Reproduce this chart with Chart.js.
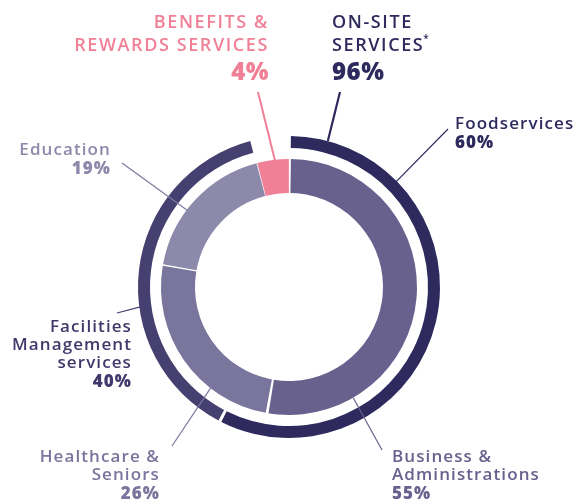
<!DOCTYPE html>
<html>
<head>
<meta charset="utf-8">
<script src="https://cdn.jsdelivr.net/npm/chart.js@4/dist/chart.umd.min.js"></script>
<style>
html,body{margin:0;padding:0;background:#fff;}
#wrap{position:relative;width:576px;height:500px;}
</style>
</head>
<body>
<div id="wrap"><canvas id="c" width="576" height="500"></canvas></div>
<script>
// ---- data ----
const onSiteLabel = 'ON-SITE SERVICES*';
const onSitePct = 96;
const benefitsLabel = 'BENEFITS & REWARDS SERVICES';
const benefitsPct = 4;
const sectorLabels = ['Business & Administrations', 'Healthcare & Seniors', 'Education'];
const sectorPct = [55, 26, 19];
const serviceLabels = ['Foodservices', 'Facilities Management services'];
const servicePct = [60, 40];

// ---- colours ----
const navyDark = '#2e2a5e';
const navyLight = '#45406f';
const sectorColors = ['#68618e', '#79759c', '#8c89ab'];
const pink = '#f08096';

// values (share of the whole)
const outerValues = servicePct.map(p => p * onSitePct / 100).concat([benefitsPct]);
const innerValues = sectorPct.map(p => p * onSitePct / 100).concat([benefitsPct]);

const FONT = '"Open Sans", sans-serif';

function ptAt(cx, cy, r, deg) {
  const a = deg * Math.PI / 180;
  return [cx + r * Math.sin(a), cy - r * Math.cos(a)];
}

const labelPlugin = {
  id: 'labels',
  afterDraw(chart) {
    const ctx = chart.ctx;
    const outer = chart.getDatasetMeta(0).data;
    const inner = chart.getDatasetMeta(2).data;
    const cx = outer[0].x, cy = outer[0].y;
    const rOut = outer[0].outerRadius;
    const rIn = inner[0].outerRadius;

    function midDeg(arc) {
      return ((arc.startAngle + arc.endAngle) / 2) * 180 / Math.PI + 90;
    }

    function line(x1, y1, deg, r, color, w) {
      const [x2, y2] = ptAt(cx, cy, r, deg);
      ctx.save();
      ctx.strokeStyle = color;
      ctx.lineWidth = w;
      ctx.beginPath();
      ctx.moveTo(x1, y1);
      ctx.lineTo(x2, y2);
      ctx.stroke();
      ctx.restore();
    }

    function text(lines, x, align, color) {
      ctx.save();
      ctx.fillStyle = color;
      ctx.textAlign = align;
      ctx.textBaseline = 'alphabetic';
      lines.forEach(l => {
        ctx.font = l.font;
        ctx.letterSpacing = l.ls || '1.1px';
        ctx.fillText(l.t, x, l.y);
      });
      ctx.restore();
    }

    const reg = '600 17px ' + FONT;
    const bold = '800 17px ' + FONT;
    const head = '600 18px ' + FONT;
    const headBold = '800 24px ' + FONT;

    // leader lines
    line(258, 92, midDeg(inner[3]) + 1, rIn - 2, pink, 2);
    line(340, 92, 14.9, rOut + 1, navyDark, 2.2);
    line(448, 129, 45.5, rOut, navyDark, 1.2);
    line(122, 163, 307, rIn, '#7d7aa0', 1.2);
    line(117, 313, 262.4, rOut, navyLight, 1.2);
    line(172, 446, 217.8, rIn + 1, '#79759c', 1.2);
    line(382, 450, 149.9, rIn + 1, '#68618e', 1.2);

    // headers
    text([
      {t: 'BENEFITS &', y: 28, font: head, ls: '1.6px'},
      {t: 'REWARDS SERVICES', y: 51, font: head, ls: '1.6px'},
      {t: benefitsPct + '%', y: 80, font: headBold, ls: '0.5px'}
    ], 269, 'right', pink);
    text([
      {t: 'ON-SITE', y: 28, font: head, ls: '1.6px'},
      {t: 'SERVICES', y: 51, font: head, ls: '1.6px'},
      {t: onSitePct + '%', y: 80, font: headBold, ls: '0.5px'}
    ], 332, 'left', navyDark);
    ctx.save();
    ctx.font = head; ctx.letterSpacing = '1.6px';
    const wS = ctx.measureText('SERVICES').width;
    ctx.font = '600 10px ' + FONT;
    ctx.letterSpacing = '0px';
    ctx.fillStyle = navyDark;
    ctx.fillText('*', 332 + wS - 1, 42);
    ctx.restore();

    // sector / service labels
    text([
      {t: serviceLabels[0], y: 129, font: reg},
      {t: servicePct[0] + '%', y: 148, font: bold}
    ], 455, 'left', navyDark);
    text([
      {t: sectorLabels[2], y: 155, font: reg},
      {t: sectorPct[2] + '%', y: 174, font: bold}
    ], 111, 'right', '#8c89ab');
    text([
      {t: 'Facilities', y: 332, font: reg},
      {t: 'Management', y: 350, font: reg},
      {t: 'services', y: 368, font: reg},
      {t: servicePct[1] + '%', y: 387, font: bold}
    ], 132, 'right', '#3f3a6b');
    text([
      {t: 'Healthcare &', y: 462, font: reg},
      {t: 'Seniors', y: 480, font: reg},
      {t: sectorPct[1] + '%', y: 499, font: bold}
    ], 160, 'right', '#79759c');
    text([
      {t: 'Business &', y: 462, font: reg},
      {t: 'Administrations', y: 480, font: reg},
      {t: sectorPct[0] + '%', y: 499, font: bold}
    ], 392, 'left', '#68618e');
  }
};

new Chart(document.getElementById('c'), {
  type: 'doughnut',
  data: {
    labels: ['a', 'b', 'c', 'd'],
    datasets: [
      {
        data: outerValues,
        backgroundColor: [navyDark, navyLight, 'rgba(0,0,0,0)'],
        borderWidth: 0,
        spacing: 2,
        weight: 12
      },
      {
        data: [100],
        backgroundColor: ['rgba(0,0,0,0)'],
        borderWidth: 0,
        weight: 11
      },
      {
        data: innerValues,
        backgroundColor: sectorColors.concat([pink]),
        borderWidth: 0,
        spacing: 2,
        weight: 34
      }
    ]
  },
  options: {
    responsive: false,
    animation: false,
    cutout: 93,
    spacing: 2,
    layout: {padding: {left: 138, top: 136, right: 136, bottom: 62}},
    plugins: {legend: {display: false}, tooltip: {enabled: false}},
    events: []
  },
  plugins: [labelPlugin]
});
</script>
</body>
</html>
